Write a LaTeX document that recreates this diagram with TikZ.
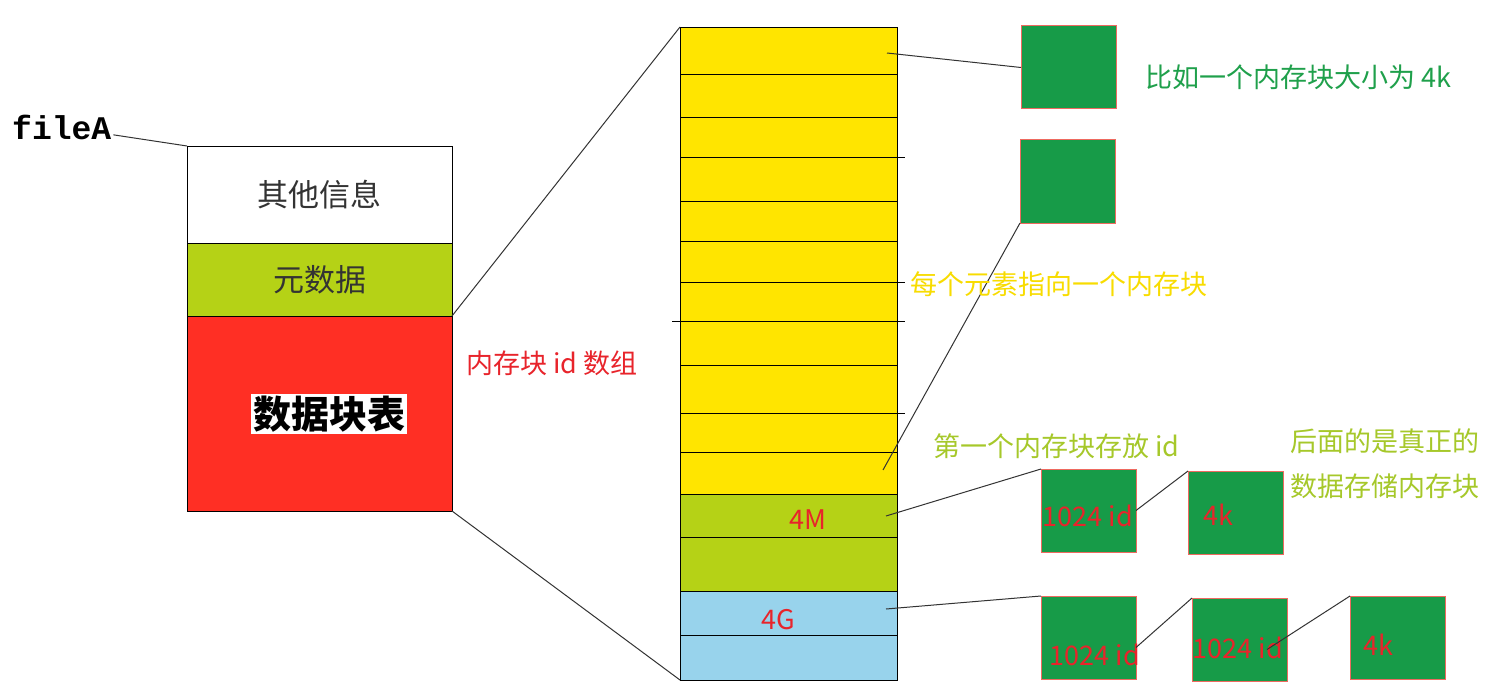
\documentclass[tikz,border=0pt]{standalone}
\usepackage{fontspec}
\setmainfont{Noto Sans CJK SC}
\newfontfamily\filefont{Liberation Mono}
\usetikzlibrary{positioning}
\definecolor{cellyellow}{HTML}{FFE500}
\definecolor{metagreen}{HTML}{B5D216}
\definecolor{cellblue}{HTML}{98D3EC}
\definecolor{tablered}{HTML}{FF2F24}
\definecolor{blockgreen}{HTML}{179B48}
\definecolor{blockedge}{HTML}{EE6A60}
\definecolor{notegreen}{HTML}{1FA04B}
\definecolor{noteyellow}{HTML}{F8DC00}
\definecolor{noteolive}{HTML}{A6C82A}
\definecolor{notered}{HTML}{E8242B}
\newcommand*{\noteSize}{\fontsize{27}{30}\selectfont}

\tikzset{
	part/.style={draw, inner sep=0pt, outer sep=0pt, minimum width=265pt, text=black!80},
	cell/.style={draw, inner sep=0pt, outer sep=0pt, minimum width=217pt},
	block/.style={draw=blockedge, fill=blockgreen, line width=1pt, inner sep=0pt, outer sep=0pt,
		minimum width=95pt, minimum height=83pt, anchor=north west},
	link/.style={draw=black!80, line width=1pt},
	note/.style={font=\noteSize, inner sep=0pt, anchor=west},
	size/.style={font=\noteSize, inner sep=0pt, text=notered},
}

\begin{document}
\begin{tikzpicture}[x=1pt, y=-1pt]
	\path[fill=white, use as bounding box] (0,0) rectangle (1510,698);
	
	% file with its three parts
	\node[font=\filefont\bfseries\fontsize{33}{36}\selectfont, inner sep=2pt, anchor=west] (fileA) at (10,127) {fileA};
	\node[part, fill=white, minimum height=97pt, anchor=north west, font=\fontsize{31}{34}\selectfont] (info) at (187,146) {其他信息};
	\node[part, fill=metagreen, minimum height=73pt, below=0pt of info, font=\fontsize{31}{34}\selectfont] (meta) {元数据};
	\node[part, fill=tablered, minimum height=195pt, below=0pt of meta] (table) {};
	\node[fill=white, inner sep=2pt, font=\bfseries\fontsize{38}{40}\selectfont] (tableTitle) at (329,414) {数据块表};
	\draw[link] (fileA) -- (info.north west);
	
	% id array
	\node[cell, fill=cellyellow, minimum height=467pt, anchor=north west] (ids) at (680,27) {};
	\node[cell, fill=metagreen, minimum height=97pt, below=0pt of ids] (mid) {};
	\node[cell, fill=cellblue, minimum height=89pt, below=0pt of mid] (big) {};
	\foreach \y in {74,117,201,241,365,452,537,635} {
		\draw (ids.west |- 0,\y) -- (ids.east |- 0,\y);
	}
	\foreach \y in {157,282,413} {
		\draw (ids.west |- 0,\y) -- ([xshift=8pt]ids.east |- 0,\y);
	}
	\draw ([xshift=-8pt]ids.west |- 0,321) -- ([xshift=8pt]ids.east |- 0,321);
	\node[size] (midSize) at (808,520) {4M};
	\node[size] (bigSize) at (778,620) {4G};
	
	\draw[link] (meta.south east) -- (ids.north west);
	\draw[link] (table.south east) -- (big.south west);
	
	% memory blocks
	\node[block] (s1) at (1021,26) {};
	\node[block] (s2) at (1020,140) {};
	\node[block] (a) at (1041,469) {};
	\node[block] (b) at (1188,471) {};
	\node[block] (c) at (1041,596) {};
	\node[block] (d) at (1192,598) {};
	\node[block] (e) at (1350,596) {};
	\node[size] at (1088,516) {1024 id};
	\node[size] at (1218,515) {4k};
	\node[size] at (1095,655) {1024 id};
	\node[size] at (1238,648) {1024 id};
	\node[size] at (1378,645) {4k};
	
	\coordinate (p1) at (887,53);
	\coordinate (p2) at (883,470);
	\coordinate (p3) at (886,516);
	\coordinate (p4) at (886,609);
	\draw[link] (p1) -- (s1.west);
	\draw[link] (p2) -- (s2.south west);
	\draw[link] (p3) -- (a.north west);
	\draw[link] (a.east) -- (b.north west);
	\draw[link] (p4) -- (c.north west);
	\draw[link] ([yshift=-10pt]c.east) -- (d.north west);
	\draw[link] ([xshift=-20pt,yshift=-10pt]d.east) -- (e.north west);
	
	% notes
	\node[note, text=notered] (idNote) at (466,363) {内存块 id 数组};
	\node[note, text=noteyellow] (eachNote) at (910,284) {每个元素指向一个内存块};
	\node[note, text=notegreen] (sizeNote) at (1145,77) {比如一个内存块大小为 4k};
	\node[note, text=noteolive] (firstNote) at (933,446) {第一个内存块存放 id};
	\node[note, text=noteolive] (restNote) at (1290,441) {后面的是真正的};
	\node[note, text=noteolive] (restNoteB) at (1290,486) {数据存储内存块};
\end{tikzpicture}
\end{document}
